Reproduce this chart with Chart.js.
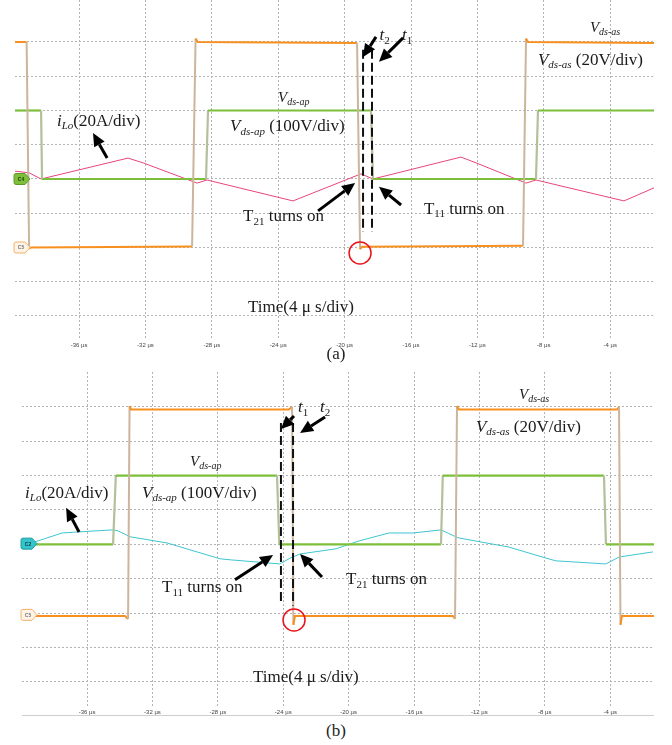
<!DOCTYPE html>
<html>
<head>
<meta charset="utf-8">
<script src="https://cdn.jsdelivr.net/npm/chart.js@4.4.1/dist/chart.umd.min.js"></script>
<style>
  body { margin: 0; background: #fff; width: 672px; height: 745px; position: relative; overflow: hidden; font-family: "Liberation Serif", serif; }
  canvas { position: absolute; left: 0; }
  .cap { position: absolute; left: 306px; width: 60px; text-align: center; font-size: 17px; color: #222; }
</style>
</head>
<body>
<canvas id="scopeA" width="672" height="349" style="top:0"></canvas>
<canvas id="scopeB" width="672" height="344" style="top:372px"></canvas>
<div class="cap" style="top:344px">(a)</div>
<div class="cap" style="top:721px">(b)</div>
<script>
// time in µs, level in screen divisions
var tickStep = 4;

// ---- panel (a) ----
var aOrangeT = [-39.86, -39.16, -39.01, -38.9, -29.19, -28.98, -28.85, -19.25, -19.07, -18.95, -9.25, -9.07, -8.95, -1.36];
var aOrangeV = [8.0, 8.0, 1.97, 2.0, 2.03, 8.1, 8.0, 7.97, 1.95, 2.02, 2.05, 8.1, 8.0, 7.97];
var aGreenT = [-39.86, -38.29, -38.23, -28.35, -28.23, -18.41, -18.29, -8.47, -8.35, -1.36];
var aGreenV = [6, 6, 4, 4, 6, 6, 4, 4, 6, 6];
var aPinkT = [-39.86, -39.01, -38.29, -33.05, -32.14, -28.89, -28.29, -23.11, -19.01, -18.29, -12.99, -12.08, -9.07, -8.47, -3.17, -1.36];
var aPinkV = [4.23, 4.18, 4.00, 4.61, 4.47, 3.88, 3.97, 3.36, 4.15, 4.00, 4.64, 4.47, 3.88, 3.97, 3.36, 3.74];

// ---- panel (b) ----
var bOrangeT = [-39.98, -33.68, -33.49, -33.40, -33.31, -23.65, -23.46, -23.38, -23.28, -13.62, -13.49, -13.37, -13.25, -3.59, -3.46, -3.37, -3.28, -1.32];
var bOrangeV = [1.92, 1.92, 1.83, 8.02, 7.92, 7.92, 8.0, 1.66, 1.92, 1.92, 1.83, 8.02, 7.92, 7.92, 8.0, 1.66, 1.92, 1.92];
var bGreenT = [-39.98, -34.41, -34.24, -24.38, -24.24, -14.35, -14.24, -4.38, -4.26, -1.32];
var bGreenV = [4, 4, 6, 6, 4, 4, 6, 6, 4, 4];
var bCyanT = [-39.98, -39.0, -37.53, -36.55, -34.41, -34.10, -33.37, -31.11, -27.87, -27.25, -24.20, -23.58, -22.97, -20.77, -19.36, -17.53, -16.06, -14.35, -13.31, -10.19, -7.93, -7.32, -4.26, -3.46, -1.38];
var bCyanV = [3.98, 4.10, 4.33, 4.36, 4.42, 4.39, 4.22, 4.04, 3.58, 3.55, 3.43, 3.60, 3.72, 3.87, 4.10, 4.33, 4.33, 4.42, 4.19, 3.92, 3.60, 3.52, 3.43, 3.63, 3.78];

function pts(ts, vs) {
  return ts.map(function (t, i) { return { x: t, y: vs[i] }; });
}

// vertical switching edges are drawn faint, like on the scope
function edge(col) {
  return function (ctx) {
    var dx = Math.abs(ctx.p0.parsed.x - ctx.p1.parsed.x);
    var dy = Math.abs(ctx.p0.parsed.y - ctx.p1.parsed.y);
    return (dx < 0.3 && dy > 1) ? col : undefined;
  };
}

function drawRich(ctx, x, y, parts, size) {
  ctx.textBaseline = 'middle';
  ctx.textAlign = 'left';
  ctx.fillStyle = '#1a1a1a';
  parts.forEach(function (p) {
    var it = p[1].indexOf('i') >= 0, sub = p[1].indexOf('s') >= 0;
    var fs = sub ? Math.round(size * 0.66) : size;
    ctx.font = (it ? 'italic ' : '') + fs + 'px "Liberation Serif"';
    ctx.fillText(p[0], x, sub ? y + size * 0.3 : y);
    x += ctx.measureText(p[0]).width;
  });
}

function drawArrow(ctx, x0, y0, x1, y1) {
  var a = Math.atan2(y1 - y0, x1 - x0), L = 13, W = 6;
  var bx = x1 - L * Math.cos(a), by = y1 - L * Math.sin(a);
  ctx.strokeStyle = '#000';
  ctx.lineWidth = 3;
  ctx.beginPath(); ctx.moveTo(x0, y0); ctx.lineTo(bx, by); ctx.stroke();
  ctx.fillStyle = '#000';
  ctx.beginPath();
  ctx.moveTo(x1, y1);
  ctx.lineTo(bx + W * Math.sin(a), by - W * Math.cos(a));
  ctx.lineTo(bx - W * Math.sin(a), by + W * Math.cos(a));
  ctx.closePath(); ctx.fill();
}

function drawTag(ctx, x, y, label, fill, stroke, txt) {
  ctx.beginPath();
  ctx.moveTo(x + 2, y - 5.5); ctx.lineTo(x + 11, y - 5.5); ctx.lineTo(x + 16, y);
  ctx.lineTo(x + 11, y + 5.5); ctx.lineTo(x + 2, y + 5.5);
  ctx.quadraticCurveTo(x, y + 5.5, x, y + 3.5); ctx.lineTo(x, y - 3.5);
  ctx.quadraticCurveTo(x, y - 5.5, x + 2, y - 5.5);
  ctx.closePath();
  ctx.fillStyle = fill; ctx.fill();
  ctx.strokeStyle = stroke; ctx.lineWidth = 1; ctx.stroke();
  ctx.fillStyle = txt;
  ctx.font = 'bold 5px "Liberation Sans"';
  ctx.textAlign = 'center'; ctx.textBaseline = 'middle';
  ctx.fillText(label, x + 7, y + 0.5);
}

var scopeNotes = {
  id: 'scopeNotes',
  afterDatasetsDraw: function (chart, args, o) {
    var ctx = chart.ctx, sx = chart.scales.x, sy = chart.scales.y;
    var X = function (t) { return sx.getPixelForValue(t); };
    var Y = function (v) { return sy.getPixelForValue(v); };
    ctx.save();
    o.tags.forEach(function (g) {
      drawTag(ctx, chart.chartArea.left - 1, Y(g.v), g.label, g.fill, g.stroke, g.txt);
    });
    ctx.strokeStyle = '#111';
    ctx.lineWidth = 2;
    ctx.setLineDash([9, 4]);
    o.dashes.forEach(function (d) {
      ctx.beginPath(); ctx.moveTo(X(d[0]), Y(d[1])); ctx.lineTo(X(d[0]), Y(d[2])); ctx.stroke();
    });
    ctx.setLineDash([]);
    o.circles.forEach(function (c) {
      ctx.strokeStyle = '#e8141c'; ctx.lineWidth = 1.5;
      ctx.beginPath(); ctx.arc(X(c[0]), Y(c[1]), 11, 0, Math.PI * 2); ctx.stroke();
    });
    o.arrows.forEach(function (a) { drawArrow(ctx, X(a[0]), Y(a[1]), X(a[2]), Y(a[3])); });
    o.texts.forEach(function (s) { drawRich(ctx, X(s.t), Y(s.v), s.parts, s.size || 17); });
    if (o.baseLine) {
      ctx.strokeStyle = '#cfcfcf'; ctx.lineWidth = 1;
      ctx.beginPath(); ctx.moveTo(chart.chartArea.left, chart.height - 0.5);
      ctx.lineTo(chart.chartArea.right, chart.height - 0.5); ctx.stroke();
    }
    ctx.restore();
  }
};

function makeScope(id, xr, yr, pad, sets, notes) {
  return new Chart(document.getElementById(id), {
    type: 'line',
    data: { datasets: sets },
    options: {
      responsive: false,
      animation: false,
      devicePixelRatio: 1,
      layout: { padding: { left: pad[0], right: pad[1], top: 0, bottom: 0 } },
      elements: { point: { radius: 0 }, line: { tension: 0 } },
      scales: {
        x: {
          type: 'linear', min: xr[0], max: xr[1],
          afterFit: function (s) { s.height = 10; },
          ticks: {
            stepSize: tickStep, includeBounds: false, padding: 3,
            color: '#444', font: { family: 'Liberation Sans', size: 6 },
            callback: function (v) { return v + ' µs'; }
          },
          grid: { drawTicks: false, color: '#b3b3b3', lineWidth: 1 },
          border: { display: false, dash: [2, 2] }
        },
        y: {
          min: yr[0], max: yr[1],
          afterFit: function (s) { s.width = 0; },
          ticks: { display: false, stepSize: 1, includeBounds: false },
          grid: {
            drawTicks: false, lineWidth: 1,
            color: function (c) { return (c.tick.value < 0 || c.tick.value > 8) ? 'rgba(0,0,0,0)' : '#b3b3b3'; }
          },
          border: { display: false, dash: [2, 2] }
        }
      },
      plugins: { legend: { display: false }, tooltip: { enabled: false }, scopeNotes: notes }
    },
    plugins: [scopeNotes]
  });
}

var orangeCol = '#f7901e', greenCol = '#7dbf3a', pinkCol = '#e8457c', cyanCol = '#3ec6cf';

makeScope('scopeA', [-39.86, -1.36], [-0.672, 9.226], [15, 18], [
  { data: pts(aOrangeT, aOrangeV), borderColor: orangeCol, borderWidth: 2, segment: { borderColor: edge('#cdb49c') } },
  { data: pts(aGreenT, aGreenV), borderColor: greenCol, borderWidth: 2.2, segment: { borderColor: edge('#b3c09a') } },
  { data: pts(aPinkT, aPinkV), borderColor: pinkCol, borderWidth: 1 }
], {
  tags: [
    { v: 4, label: 'C4', fill: '#7dbf3a', stroke: '#5f9a2a', txt: '#1d3a08' },
    { v: 2, label: 'C5', fill: '#fff4e6', stroke: '#f4b26a', txt: '#777' }
  ],
  dashes: [[-18.89, 7.77, 2.45], [-18.35, 7.77, 2.45]],
  circles: [[-19.07, 1.84]],
  arrows: [
    [-34.31, 4.61, -35.16, 5.34],
    [-21.60, 3.07, -19.37, 3.88],
    [-16.60, 3.24, -17.93, 3.77],
    [-18.11, 8.15, -18.89, 7.56],
    [-16.48, 8.12, -17.93, 7.42]
  ],
  texts: [
    { t: -5.22, v: 8.41, size: 15, parts: [['V', 'i'], ['ds-as', 'is']] },
    { t: -8.35, v: 7.47, parts: [['V', 'i'], ['ds-as', 'is'], [' (20V/div)', '']] },
    { t: -24.01, v: 6.36, size: 15, parts: [['V', 'i'], ['ds-ap', 'is']] },
    { t: -26.90, v: 5.52, parts: [['V', 'i'], ['ds-ap', 'is'], [' (100V/div)', '']] },
    { t: -37.33, v: 5.69, parts: [['i', 'i'], ['Lo', 'is'], ['(20A/div)', '']] },
    { t: -26.12, v: 2.89, parts: [['T', ''], ['21', 's'], [' turns on', '']] },
    { t: -15.22, v: 3.12, parts: [['T', ''], ['11', 's'], [' turns on', '']] },
    { t: -17.90, v: 8.18, parts: [['t', 'i'], ['2', 's']] },
    { t: -16.54, v: 8.18, parts: [['t', 'i'], ['1', 's']] },
    { t: -25.82, v: 0.26, parts: [['Time(4 μ s/div)', '']] }
  ]
});

makeScope('scopeB', [-39.98, -1.32], [-0.70, 9.01], [22, 18], [
  { data: pts(bOrangeT, bOrangeV), borderColor: orangeCol, borderWidth: 2, segment: { borderColor: edge('#cdb49c') } },
  { data: pts(bGreenT, bGreenV), borderColor: greenCol, borderWidth: 2.2, segment: { borderColor: edge('#b3c09a') } },
  { data: pts(bCyanT, bCyanV), borderColor: cyanCol, borderWidth: 1 }
], {
  baseLine: true,
  tags: [
    { v: 4.02, label: 'C2', fill: '#33c4cc', stroke: '#1f9aa2', txt: '#0c3b3e' },
    { v: 1.95, label: 'C5', fill: '#fff4e6', stroke: '#f4b26a', txt: '#777' }
  ],
  dashes: [[-24.14, 7.53, 2.30], [-23.40, 7.53, 2.22]],
  circles: [[-23.34, 1.80]],
  arrows: [
    [-36.49, 4.36, -37.28, 5.06],
    [-26.95, 2.97, -24.62, 3.69],
    [-21.63, 3.05, -22.97, 3.72],
    [-23.34, 7.73, -24.14, 7.35],
    [-21.44, 7.70, -22.97, 7.24]
  ],
  texts: [
    { t: -9.58, v: 8.34, size: 15, parts: [['V', 'i'], ['ds-as', 'is']] },
    { t: -12.21, v: 7.41, parts: [['V', 'i'], ['ds-as', 'is'], [' (20V/div)', '']] },
    { t: -29.70, v: 6.40, size: 15, parts: [['V', 'i'], ['ds-ap', 'is']] },
    { t: -32.64, v: 5.49, parts: [['V', 'i'], ['ds-ap', 'is'], [' (100V/div)', '']] },
    { t: -39.79, v: 5.49, parts: [['i', 'i'], ['Lo', 'is'], ['(20A/div)', '']] },
    { t: -31.41, v: 2.73, parts: [['T', ''], ['11', 's'], [' turns on', '']] },
    { t: -20.16, v: 2.97, parts: [['T', ''], ['21', 's'], [' turns on', '']] },
    { t: -23.10, v: 7.97, parts: [['t', 'i'], ['1', 's']] },
    { t: -21.75, v: 7.97, parts: [['t', 'i'], ['2', 's']] },
    { t: -25.85, v: 0.12, parts: [['Time(4 μ s/div)', '']] }
  ]
});
</script>
</body>
</html>
